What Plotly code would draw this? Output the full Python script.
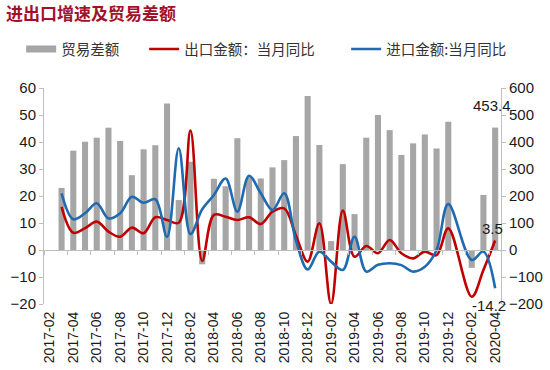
import plotly.graph_objects as go

months = ["2017-02", "2017-03", "2017-04", "2017-05", "2017-06", "2017-07", "2017-08",
          "2017-09", "2017-10", "2017-11", "2017-12", "2018-01", "2018-02", "2018-03",
          "2018-04", "2018-05", "2018-06", "2018-07", "2018-08", "2018-09", "2018-10",
          "2018-11", "2018-12", "2019-01", "2019-02", "2019-03", "2019-04", "2019-05",
          "2019-06", "2019-07", "2019-08", "2019-09", "2019-10", "2019-11", "2019-12",
          "2020-01", "2020-02", "2020-03", "2020-04"]

trade_balance = [None, 230, 368, 401, 416, 453, 404, 277, 373, 388, 543,
                 185, 327, -53, 264, 236, 414, 270, 265, 306, 333, 422, 570,
                 389, 33, 318, 133, 416, 500, 444, 352, 395, 428, 376, 475,
                 None, -66, 204, 453.4]

export_yoy = [None, 16.0, 6.4, 8.1, 10.5, 6.8, 4.9, 8.3, 6.2, 12.1, 11.1,
              10.1, 44.2, -4.0, 13.0, 12.3, 11.1, 12.1, 9.6, 14.2, 15.4, 5.4, -4.3,
              9.9, -20.0, 14.6, -2.5, 1.5, -1.2, 3.7, -1.2, -3.1, -0.6, -1.9, 8.0,
              None, -17.3, -7.4, 3.5]

import_yoy = [None, 21.0, 11.4, 13.6, 17.3, 11.7, 13.6, 19.7, 17.5, 18.8, 4.9,
              37.7, 5.9, 15.1, 20.4, 26.5, 14.2, 27.5, 21.0, 14.8, 21.0, 3.5, -7.2,
              -0.6, -4.3, -7.4, 4.9, -8.0, -5.5, -4.9, -5.6, -8.0, -6.2, 0.0, 17.0,
              None, -3.7, -0.6, -14.2]

left_ticks = [-20, -10, 0, 10, 20, 30, 40, 50, 60]
right_ticks = [-200, -100, 0, 100, 200, 300, 400, 500, 600]

title_text = "进出口增速及贸易差额"
name_bal = "贸易差额"
name_exp = "出口金额：当月同比"
name_imp = "进口金额:当月同比"

GRAY = "#A6A6A6"
RED = "#C00000"
BLUE = "#1F6AB0"
AXIS = "#BFBFBF"
TXT = "#1A1A1A"
FONT = "Liberation Sans, Arial, sans-serif"
CJK = "Noto Sans CJK SC"

fig = go.Figure()

fig.add_trace(go.Bar(x=months, y=trade_balance, name=name_bal, marker_color=GRAY,
                     yaxis="y", showlegend=False, hoverinfo="skip"))
# legend proxy for bar
fig.add_trace(go.Scatter(x=[None], y=[None], mode="lines", name=name_bal,
                         line=dict(color=GRAY, width=7), yaxis="y", legendwidth=78))
fig.add_trace(go.Scatter(x=months, y=export_yoy, name=name_exp, mode="lines",
                         line=dict(color=RED, width=2.6, shape="spline", smoothing=1.0),
                         connectgaps=True, yaxis="y2", legendwidth=157))
fig.add_trace(go.Scatter(x=months, y=import_yoy, name=name_imp, mode="lines",
                         line=dict(color=BLUE, width=2.6, shape="spline", smoothing=1.0),
                         connectgaps=True, yaxis="y2", legendwidth=130))
# invisible trace to host the zero-line category axis
fig.add_trace(go.Scatter(x=months, y=[0] * len(months), mode="lines", xaxis="x2", yaxis="y",
                         line=dict(width=0), opacity=0, showlegend=False, hoverinfo="skip"))

fig.update_layout(
    template="none",
    width=550, height=370,
    margin=dict(l=44, r=49, t=88, b=66, autoexpand=False),
    paper_bgcolor="white", plot_bgcolor="white",
    bargap=0.48,
    font=dict(family=FONT, size=14, color=TXT),
    xaxis=dict(type="category", categoryorder="array", categoryarray=months,
               range=[-0.5, len(months) - 0.5], tickmode="linear", tick0=0, dtick=2,
               tickangle=-90, ticks="", showline=False, showgrid=False, zeroline=False,
               automargin=False,
               tickfont=dict(size=14, family=FONT, color=TXT), ticklabelstandoff=4),
    xaxis2=dict(type="category", categoryorder="array", categoryarray=months,
                range=[-0.5, len(months) - 0.5], overlaying="x", anchor="free", position=0.25,
                tickmode="linear", tick0=0, dtick=2, tickson="boundaries",
                ticks="outside", ticklen=4, tickcolor=AXIS, showline=True, linecolor=AXIS,
                linewidth=1, showticklabels=False, showgrid=False, zeroline=False,
                automargin=False),
    yaxis=dict(side="right", range=[-200, 600], tickvals=right_ticks, showgrid=False,
               zeroline=False, showline=True, linecolor=AXIS, ticks="outside", ticklen=4,
               tickcolor=AXIS, automargin=False,
               tickfont=dict(size=15, family=FONT, color=TXT)),
    yaxis2=dict(side="left", overlaying="y", range=[-20, 60], tickvals=left_ticks,
                showgrid=False, zeroline=False, showline=True, linecolor=AXIS,
                ticks="outside", ticklen=4, tickcolor=AXIS, automargin=False,
                tickfont=dict(size=15, family=FONT, color=TXT)),
    legend=dict(orientation="h", x=-0.05, xanchor="left", y=1.18, yanchor="middle",
                font=dict(family=CJK, size=14.5, color="#333333"), itemwidth=30,
                bgcolor="rgba(0,0,0,0)", borderwidth=0),
    showlegend=True,
)

fig.add_annotation(text=title_text, xref="paper", yref="paper", x=-0.087, y=1.348,
                   xanchor="left", yanchor="middle", showarrow=False,
                   font=dict(family=CJK, size=17, color="#A3102A", weight="bold"))

fig.add_annotation(text="453.4", x=months[-1], y=trade_balance[-1], xref="x", yref="y",
                   xanchor="center", yanchor="bottom", yshift=12, xshift=-3, showarrow=False,
                   font=dict(size=15, family=FONT, color=TXT))
fig.add_annotation(text="3.5", x=months[-1], y=export_yoy[-1], xref="x", yref="y2",
                   xanchor="center", yanchor="bottom", yshift=2, xshift=-3, showarrow=False,
                   font=dict(size=15, family=FONT, color=TXT))
fig.add_annotation(text="-14.2", x=months[-1], y=import_yoy[-1], xref="x", yref="y2",
                   xanchor="center", yanchor="top", yshift=-7, xshift=-6, showarrow=False,
                   font=dict(size=15, family=FONT, color=TXT))

fig.write_html("out.html", config={"displayModeBar": False},
               post_script="document.body.style.margin='0';")
